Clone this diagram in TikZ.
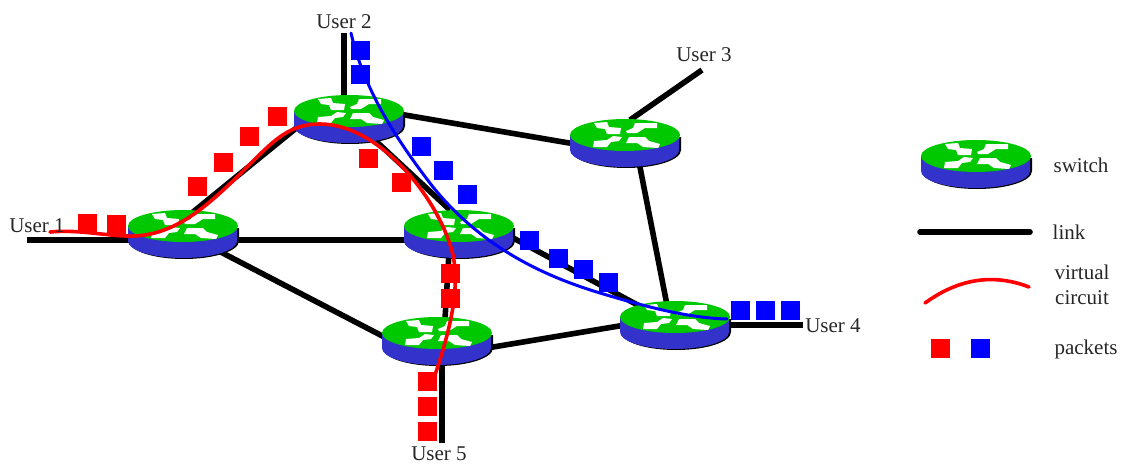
\documentclass[tikz,border=0pt]{standalone}
\usepackage{fontspec}
\setmainfont{Liberation Serif}
\usetikzlibrary{calc}
\definecolor{swgreen}{RGB}{0,200,0}
\definecolor{swblue}{RGB}{51,51,204}
\definecolor{pred}{RGB}{255,0,0}
\definecolor{pblue}{RGB}{0,0,255}
\tikzset{
  hub/.style={inner sep=0pt,minimum size=1pt},
  linkline/.style={line width=5.6pt,black},
  redcurve/.style={line width=3.6pt,pred,line cap=round},
  bluecurve/.style={line width=3pt,pblue,line cap=round},
  redpkt/.style={fill=pred,inner sep=0pt,minimum size=19pt},
  bluepkt/.style={fill=pblue,inner sep=0pt,minimum size=19pt},
  lbl/.style={font=\fontsize{21}{23}\selectfont,text=black!85,inner sep=0pt},
  switchicon/.pic={
    \fill[black] (-54,2) -- (-54,13) arc[start angle=180,end angle=0,x radius=55,y radius=18] -- (56,0) -- cycle;
    \fill[swblue] (-55,-2) -- (-55,13) arc[start angle=180,end angle=0,x radius=54.5,y radius=17] -- (54,-2) -- cycle;
    \fill[swgreen] (0,-2) ellipse[x radius=55,y radius=16];
    \fill[white] (-31,-14) -- (-18,-15) -- (-16,-10) -- (-4,-9) -- (-5,-3) -- (-18,-3) -- (-20,-8) -- (-28,-9) -- cycle;
    \fill[white] (1,-6) -- (8,-9) -- (10,-14) -- (32,-14) -- (32,-9) -- (20,-9) -- (12,-4) -- (2,-4) -- cycle;
    \fill[white] (-32,10) -- (-31,4) -- (-18,3) -- (-12,-1) -- (-3,0) -- (-6,4) -- (-14,5) -- (-18,10) -- cycle;
    \fill[white] (1,6) -- (4,0) -- (20,0) -- (24,4) -- (35,7) -- (33,11) -- (18,10) -- (12,6) -- cycle;
  }
}
\begin{document}
\begin{tikzpicture}[x=1pt,y=-1pt]
\useasboundingbox (0,0) rectangle (1123,466);
% hubs
\node[hub] (s1) at (183,228) {};
\node[hub] (s2) at (349,113) {};
\node[hub] (s3) at (625,137) {};
\node[hub] (s4) at (459,228) {};
\node[hub] (s5) at (437,335) {};
\node[hub] (s6) at (675,319) {};
\node[hub] (sl) at (976,158) {};
% free ends
\coordinate (u1) at (27,240);
\coordinate (u2) at (344,33);
\coordinate (u3) at (702,70);
\coordinate (u4) at (803,325);
\coordinate (u5) at (442,443);
\coordinate (ll1) at (920,232);
\coordinate (ll2) at (1030,232);
\coordinate (vr1) at (50,232);
\coordinate (vr2) at (435,375);
\coordinate (vb1) at (351,33);
\coordinate (vb2) at (727,319);
\coordinate (vl1) at (925,303);
\coordinate (vl2) at (1029,287);
% links
\draw[linkline] (u1) -- ($(s1)+(-50,12)$);
\draw[linkline] ($(s1)+(10,-16)$) -- ($(s2)+(-49,12)$);
\draw[linkline] ($(s1)+(0,12)$) -- ($(s4)+(0,12)$);
\draw[linkline] ($(s1)+(30,20)$) -- ($(s5)+(-45,6)$);
\draw[linkline] (u2) -- ($(s2)+(-5,-13)$);
\draw[linkline] ($(s2)+(50,1)$) -- ($(s3)+(-50,7)$);
\draw[linkline] ($(s3)+(5,-17)$) -- (u3);
\draw[linkline] ($(s3)+(13,20)$) -- ($(s6)+(-8,-14)$);
\draw[linkline] ($(s2)+(16,18)$) -- ($(s4)+(-9,-18)$);
\draw[linkline] ($(s4)+(45,5)$) -- ($(s6)+(-30,-10)$);
\draw[linkline] ($(s4)+(-10,25)$) -- ($(s5)+(8,-16)$);
\draw[linkline] ($(s5)+(50,13)$) -- ($(s6)+(-50,6)$);
\draw[linkline] ($(s6)+(50,6)$) -- (u4);
\draw[linkline] ($(s5)+(5,25)$) -- (u5);
\draw[linkline,line cap=round] (ll1) -- (ll2);
% switches
\pic at (s1) {switchicon};
\pic at (s2) {switchicon};
\pic at (s3) {switchicon};
\pic at (s4) {switchicon};
\pic at (s5) {switchicon};
\pic at (s6) {switchicon};
\pic at (sl) {switchicon};
% packets
\foreach \i/\x/\y in {1/87/223,2/116/224,3/197/186,4/223/162,5/249/136,6/277/116,7/368/158,8/401/182,9/450/273,10/450/298,11/427/381,12/427/406,13/427/431,14/940/348}
  \node[redpkt] (r\i) at (\x,\y) {};
\foreach \i/\x/\y in {1/360/50,2/360/74,3/421/146,4/443/170,5/467/194,6/529/240,7/558/258,8/583/269,9/608/282,10/740/310,11/765/310,12/790/310,13/980/348}
  \node[bluepkt] (b\i) at (\x,\y) {};
% virtual circuits
\draw[bluecurve] (vb1) .. controls (362,80) and (385,125) .. (433,187) .. controls (480,245) and (540,275) .. (600,293) .. controls (650,308) and (690,318) .. (vb2);
\draw[redcurve] (vr1) .. controls (80,229) and (110,237) .. (135,236) .. controls (175,234) and (205,208) .. (237,177) .. controls (270,145) and (285,124) .. (320,124) .. controls (380,124) and (440,200) .. (453,255) .. controls (460,290) and (450,330) .. (vr2);
\draw[redcurve] (vl1) .. controls (950,285) and (985,270) .. (vl2);
% labels
\node[lbl] (lu1) at (37,226) {User 1};
\node[lbl] (lu2) at (344,22) {User 2};
\node[lbl] (lu3) at (704,55) {User 3};
\node[lbl] (lu4) at (833,326) {User 4};
\node[lbl] (lu5) at (439,454) {User 5};
\node[lbl] (ls) at (1081,165) {switch};
\node[lbl] (ll) at (1069,232) {link};
\node[lbl] (lv) at (1082,272) {virtual};
\node[lbl] (lc) at (1082,298) {circuit};
\node[lbl] (lp) at (1086,349) {packets};
\end{tikzpicture}
\end{document}
